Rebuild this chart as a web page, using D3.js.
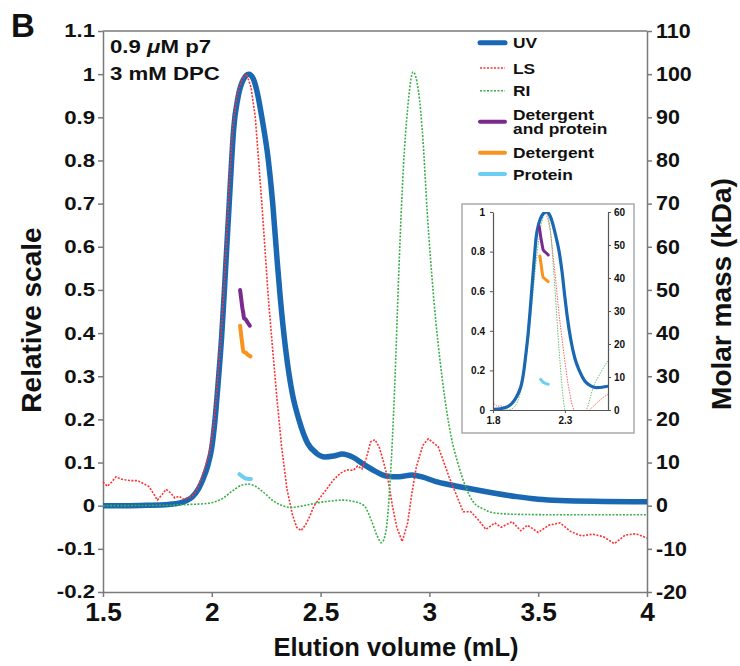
<!DOCTYPE html>
<html>
<head>
<meta charset="utf-8">
<script src="https://cdn.jsdelivr.net/npm/d3@7"></script>
<style>
  body { margin: 0; background: #fff; }
  svg text { font-family: "Liberation Sans", Arial, sans-serif; font-weight: bold; fill: #111; }
</style>
</head>
<body>
<script>
// elution volume (mL), relative scale
var uv = [[1.5,0],[1.6,0],[1.7,0.001],[1.8,0.003],[1.85,0.006],[1.88,0.011],[1.91,0.02],[1.94,0.04],[1.96,0.062],[1.98,0.09],[2.0,0.135],[2.015,0.2],[2.03,0.29],[2.045,0.39],[2.058,0.5],[2.07,0.61],[2.08,0.7],[2.09,0.79],[2.1,0.87],[2.12,0.945],[2.14,0.982],[2.17,1.0],[2.19,0.99],[2.21,0.955],[2.23,0.9],[2.26,0.8],[2.28,0.7],[2.3,0.57],[2.315,0.48],[2.34,0.36],[2.37,0.26],[2.4,0.2],[2.44,0.145],[2.48,0.122],[2.52,0.113],[2.56,0.115],[2.6,0.12],[2.65,0.112],[2.7,0.095],[2.75,0.08],[2.8,0.069],[2.86,0.067],[2.92,0.071],[2.97,0.066],[3.03,0.056],[3.1,0.048],[3.2,0.038],[3.3,0.029],[3.4,0.021],[3.5,0.015],[3.6,0.012],[3.8,0.01],[4.0,0.009]];

var ls = [[1.5,0.055],[1.52,0.045],[1.54,0.055],[1.56,0.067],[1.58,0.062],[1.6,0.06],[1.63,0.058],[1.66,0.058],[1.69,0.05],[1.71,0.045],[1.73,0.03],[1.75,0.013],[1.77,0.025],[1.79,0.038],[1.81,0.03],[1.83,0.018],[1.85,0.022],[1.87,0.015],[1.89,0.018],[1.91,0.022],[1.93,0.035],[1.95,0.06],[1.97,0.09],[1.99,0.125],[2.01,0.19],[2.025,0.28],[2.04,0.38],[2.053,0.48],[2.065,0.59],[2.075,0.69],[2.085,0.78],[2.095,0.87],[2.115,0.95],[2.14,0.99],[2.16,1.0],[2.18,0.97],[2.2,0.9],[2.215,0.8],[2.23,0.7],[2.245,0.59],[2.26,0.48],[2.28,0.36],[2.3,0.245],[2.32,0.14],[2.345,0.04],[2.37,-0.02],[2.39,-0.05],[2.41,-0.058],[2.43,-0.045],[2.45,-0.025],[2.47,0.0],[2.5,0.02],[2.53,0.04],[2.56,0.06],[2.59,0.075],[2.62,0.083],[2.65,0.082],[2.67,0.092],[2.69,0.085],[2.71,0.11],[2.73,0.148],[2.75,0.153],[2.77,0.135],[2.79,0.1],[2.81,0.06],[2.83,0.0],[2.85,-0.05],[2.875,-0.083],[2.9,-0.04],[2.92,0.03],[2.94,0.09],[2.97,0.14],[2.995,0.155],[3.02,0.145],[3.04,0.137],[3.06,0.11],[3.09,0.067],[3.12,0.03],[3.155,-0.014],[3.19,-0.014],[3.22,-0.03],[3.26,-0.055],[3.3,-0.04],[3.33,-0.05],[3.38,-0.037],[3.42,-0.058],[3.45,-0.045],[3.5,-0.062],[3.55,-0.045],[3.6,-0.04],[3.65,-0.06],[3.7,-0.07],[3.75,-0.066],[3.8,-0.072],[3.85,-0.088],[3.9,-0.068],[3.95,-0.065],[4.0,-0.075]];

var ri = [[1.5,0],[1.8,0.001],[1.85,0.002],[1.9,0.003],[1.95,0.004],[2.0,0.007],[2.05,0.017],[2.1,0.036],[2.14,0.048],[2.17,0.05],[2.2,0.045],[2.24,0.03],[2.28,0.012],[2.32,0.001],[2.36,-0.004],[2.4,-0.002],[2.45,0.003],[2.5,0.008],[2.55,0.011],[2.6,0.013],[2.65,0.01],[2.7,0.0],[2.73,-0.03],[2.76,-0.07],[2.78,-0.086],[2.8,-0.06],[2.82,0.06],[2.84,0.27],[2.86,0.55],[2.88,0.78],[2.9,0.92],[2.925,1.005],[2.95,0.96],[2.97,0.85],[2.99,0.68],[3.02,0.48],[3.06,0.29],[3.1,0.16],[3.13,0.1],[3.17,0.04],[3.2,0.01],[3.25,-0.008],[3.3,-0.017],[3.4,-0.02],[3.6,-0.021],[4.0,-0.021]];

// molar mass (kDa)
var detPro = [[2.13,50],[2.135,48],[2.14,46],[2.145,44.5],[2.148,43.4],[2.155,43.2],[2.165,42.4],[2.175,41.7]];
var det = [[2.13,41.7],[2.135,39.5],[2.14,37.5],[2.145,35.7],[2.155,35.5],[2.165,35],[2.178,34.6]];
var pro = [[2.127,7.3],[2.14,6.8],[2.155,6.3],[2.17,6.2],[2.18,6.2]];

// inset
var insetRi = [[1.8,0],[1.9,0],[1.94,0.01],[2.0,0.12],[2.05,0.38],[2.1,0.75],[2.14,0.95],[2.17,1.0],[2.2,0.9],[2.23,0.62],[2.26,0.3],[2.3,0.0],[2.35,-0.08],[2.45,0.0],[2.5,0.12],[2.55,0.19],[2.6,0.25]];
var insetDetPro = [[2.122,55.5],[2.13,53],[2.14,50.5],[2.149,48.5],[2.165,47.8],[2.184,47]];
var insetDet = [[2.126,46.7],[2.135,44],[2.149,40.2],[2.165,39.6],[2.184,38.9]];
var insetPro = [[2.131,9.3],[2.15,8.4],[2.161,8.1],[2.184,7.8]];

var xTicks = [1.5, 2, 2.5, 3, 3.5, 4];
var leftTicks = [-0.2,-0.1,0,0.1,0.2,0.3,0.4,0.5,0.6,0.7,0.8,0.9,1,1.1];
var rightTicks = [-20,-10,0,10,20,30,40,50,60,70,80,90,100,110];
var insetXTicks = [1.8, 2.3];
var insetLeftTicks = [0,0.2,0.4,0.6,0.8,1];
var insetRightTicks = [0,10,20,30,40,50,60];

var legendItems = [
  { label: ["UV"], color: "#1a67b2", width: 5, dash: null },
  { label: ["LS"], color: "#ff3030", width: 1.6, dash: "2,1.5" },
  { label: ["RI"], color: "#3cae49", width: 1.6, dash: "2,1.5" },
  { label: ["Detergent", "and protein"], color: "#7a2a8f", width: 4, dash: null },
  { label: ["Detergent"], color: "#f7931e", width: 4, dash: null },
  { label: ["Protein"], color: "#6ccdf3", width: 4, dash: null }
];

var W = 740, H = 666;
var margin = { top: 31, right: 93, bottom: 74, left: 103 };
var axisColor = "#7a7a7a";

var svg = d3.select("body").append("svg")
    .attr("width", W)
    .attr("height", H);

var x = d3.scaleLinear().domain([1.5, 4]).range([margin.left, W - margin.right]);
var yL = d3.scaleLinear().domain([-0.2, 1.1]).range([H - margin.bottom, margin.top]);
var yR = d3.scaleLinear().domain([-20, 110]).range([H - margin.bottom, margin.top]);

var fmt = d => String(+d.toFixed(2));

// stretch text horizontally about its anchor
function stretch(sel, k) {
    sel.each(function() {
        var t = d3.select(this);
        var tx = +t.attr("x") || 0, ty = +t.attr("y") || 0;
        t.attr("x", null).attr("y", null)
            .attr("transform", "translate(" + tx + "," + ty + ") scale(" + k + ",1)");
    });
}

function styleAxis(g, size) {
    g.select(".domain").attr("stroke", axisColor).attr("stroke-width", 1.5);
    g.selectAll(".tick line").attr("stroke", axisColor).attr("stroke-width", 1.5);
    g.selectAll("text").style("font-size", size + "px").attr("fill", "#111");
    g.attr("font-family", null).attr("font-size", null);
}

// top frame
svg.append("line")
    .attr("x1", margin.left).attr("x2", W - margin.right)
    .attr("y1", margin.top).attr("y2", margin.top)
    .attr("stroke", axisColor).attr("stroke-width", 1.5);

// axes
var gx = svg.append("g")
    .attr("transform", "translate(0," + (H - margin.bottom) + ")")
    .call(d3.axisBottom(x).tickValues(xTicks).tickFormat(fmt).tickSize(5).tickSizeOuter(0).tickPadding(6));
styleAxis(gx, 25);
stretch(gx.selectAll("text"), 1.05);

var gl = svg.append("g")
    .attr("transform", "translate(" + margin.left + ",0)")
    .call(d3.axisLeft(yL).tickValues(leftTicks).tickFormat(fmt).tickSize(5).tickSizeOuter(0).tickPadding(3));
styleAxis(gl, 18.5);
stretch(gl.selectAll("text"), 1.2);

var gr = svg.append("g")
    .attr("transform", "translate(" + (W - margin.right) + ",0)")
    .call(d3.axisRight(yR).tickValues(rightTicks).tickFormat(fmt).tickSize(5).tickSizeOuter(0).tickPadding(4));
styleAxis(gr, 19.5);
stretch(gr.selectAll("text"), 1.1);

// axis titles
svg.append("text")
    .text("Elution volume (mL)")
    .attr("x", 396).attr("y", 656)
    .attr("text-anchor", "middle")
    .style("font-size", "25.5px");

svg.append("text")
    .text("Relative scale")
    .attr("transform", "translate(41,320) rotate(-90)")
    .attr("text-anchor", "middle")
    .style("font-size", "28px");

svg.append("text")
    .text("Molar mass (kDa)")
    .attr("transform", "translate(731,294) rotate(-90)")
    .attr("text-anchor", "middle")
    .style("font-size", "28px");

svg.append("text")
    .text("B")
    .attr("x", 11).attr("y", 37)
    .style("font-size", "33px");

// annotation
var note = svg.append("g");
var ann = note.append("text").attr("x", 110).attr("y", 53).style("font-size", "19px");
ann.append("tspan").text("0.9 ");
ann.append("tspan").text("\u03bc").style("font-style", "italic");
ann.append("tspan").text("M p7");
note.append("text").text("3 mM DPC").attr("x", 110).attr("y", 80).style("font-size", "19px");
stretch(note.selectAll("text"), 1.17);

// curves
var line = d3.line().x(d => x(d[0])).y(d => yL(d[1])).curve(d3.curveMonotoneX);
var lineR = d3.line().x(d => x(d[0])).y(d => yR(d[1])).curve(d3.curveMonotoneX);

svg.append("path").datum(uv)
    .attr("d", line).attr("fill", "none")
    .attr("stroke", legendItems[0].color).attr("stroke-width", 5.5)
    .attr("stroke-linejoin", "round");

svg.append("path").datum(ls)
    .attr("d", d3.line().x(d => x(d[0])).y(d => yL(d[1]))).attr("fill", "none")
    .attr("stroke", legendItems[1].color).attr("stroke-width", 1.6)
    .attr("stroke-dasharray", "2,1.5");

svg.append("path").datum(ri)
    .attr("d", line).attr("fill", "none")
    .attr("stroke", legendItems[2].color).attr("stroke-width", 1.6)
    .attr("stroke-dasharray", "2,1.5");

[[detPro, 3], [det, 4], [pro, 5]].forEach(function(p) {
    svg.append("path").datum(p[0])
        .attr("d", lineR).attr("fill", "none")
        .attr("stroke", legendItems[p[1]].color).attr("stroke-width", 4)
        .attr("stroke-linecap", "round").attr("stroke-linejoin", "round");
});

// legend (multi-line labels as one text with tspans)
var legY = [42.7, 68, 90.7, 121.7, 152.7, 174];
var leg = svg.append("g");
legendItems.forEach(function(d, i) {
    leg.append("line")
        .attr("x1", 480).attr("x2", 505)
        .attr("y1", legY[i]).attr("y2", legY[i])
        .attr("stroke", d.color).attr("stroke-width", d.width)
        .attr("stroke-dasharray", d.dash)
        .attr("stroke-linecap", d.dash ? null : "round");
    var n = d.label.length;
    var t = leg.append("text")
        .attr("transform", "translate(513," + (legY[i] + 5.5 - (n - 1) * 7.25) + ") scale(1.12,1)")
        .style("font-size", "15.5px");
    d.label.forEach(function(s, j) {
        t.append("tspan").text(s).attr("x", 0).attr("dy", j === 0 ? 0 : 14.5);
    });
});

// inset
var ib = { x0: 462, y0: 204, x1: 634, y1: 433 };
var ix = d3.scaleLinear().domain([1.8, 2.6]).range([493, 608]);
var iy = d3.scaleLinear().domain([0, 1]).range([410, 212]);
var iyR = d3.scaleLinear().domain([0, 60]).range([410, 212]);

var inset = svg.append("g");
inset.append("rect")
    .attr("x", ib.x0).attr("y", ib.y0)
    .attr("width", ib.x1 - ib.x0).attr("height", ib.y1 - ib.y0)
    .attr("fill", "#fff").attr("stroke", "#aaa").attr("stroke-width", 1.5);

svg.append("clipPath").attr("id", "inset-clip")
    .append("rect")
    .attr("x", ix.range()[0]).attr("y", iy.range()[1])
    .attr("width", ix.range()[1] - ix.range()[0])
    .attr("height", iy.range()[0] - iy.range()[1]);

var ic = inset.append("g").attr("clip-path", "url(#inset-clip)");
var iline = d3.line().x(d => ix(d[0])).y(d => iy(d[1])).curve(d3.curveMonotoneX);
var ilineR = d3.line().x(d => ix(d[0])).y(d => iyR(d[1])).curve(d3.curveMonotoneX);

ic.append("path").datum(ls)
    .attr("d", d3.line().x(d => ix(d[0])).y(d => iy(d[1]))).attr("fill", "none")
    .attr("stroke", "#ff6060").attr("stroke-width", 1).attr("stroke-dasharray", "1.5,1.2");
ic.append("path").datum(insetRi)
    .attr("d", iline).attr("fill", "none")
    .attr("stroke", "#6cc077").attr("stroke-width", 1).attr("stroke-dasharray", "1.5,1.2");
ic.append("path").datum(uv)
    .attr("d", iline).attr("fill", "none")
    .attr("stroke", legendItems[0].color).attr("stroke-width", 3.2);
[[insetDetPro, 3], [insetDet, 4], [insetPro, 5]].forEach(function(p) {
    ic.append("path").datum(p[0])
        .attr("d", ilineR).attr("fill", "none")
        .attr("stroke", legendItems[p[1]].color).attr("stroke-width", 3)
        .attr("stroke-linecap", "round").attr("stroke-linejoin", "round");
});

function styleInset(g) {
    g.select(".domain").attr("stroke", "#555").attr("stroke-width", 1.2);
    g.selectAll(".tick line").attr("stroke", "#555");
    g.selectAll("text").style("font-size", "10px").attr("fill", "#222");
    g.attr("font-family", null).attr("font-size", null);
}

var igx = inset.append("g").attr("transform", "translate(0,410)")
    .call(d3.axisBottom(ix).tickValues(insetXTicks).tickFormat(fmt).tickSize(3).tickSizeOuter(0).tickPadding(4));
styleInset(igx);
var igl = inset.append("g").attr("transform", "translate(493,0)")
    .call(d3.axisLeft(iy).tickValues(insetLeftTicks).tickFormat(fmt).tickSize(3).tickSizeOuter(0).tickPadding(5));
styleInset(igl);
var igr = inset.append("g").attr("transform", "translate(608,0)")
    .call(d3.axisRight(iyR).tickValues(insetRightTicks).tickFormat(fmt).tickSize(3).tickSizeOuter(0).tickPadding(3));
styleInset(igr);
</script>
</body>
</html>
